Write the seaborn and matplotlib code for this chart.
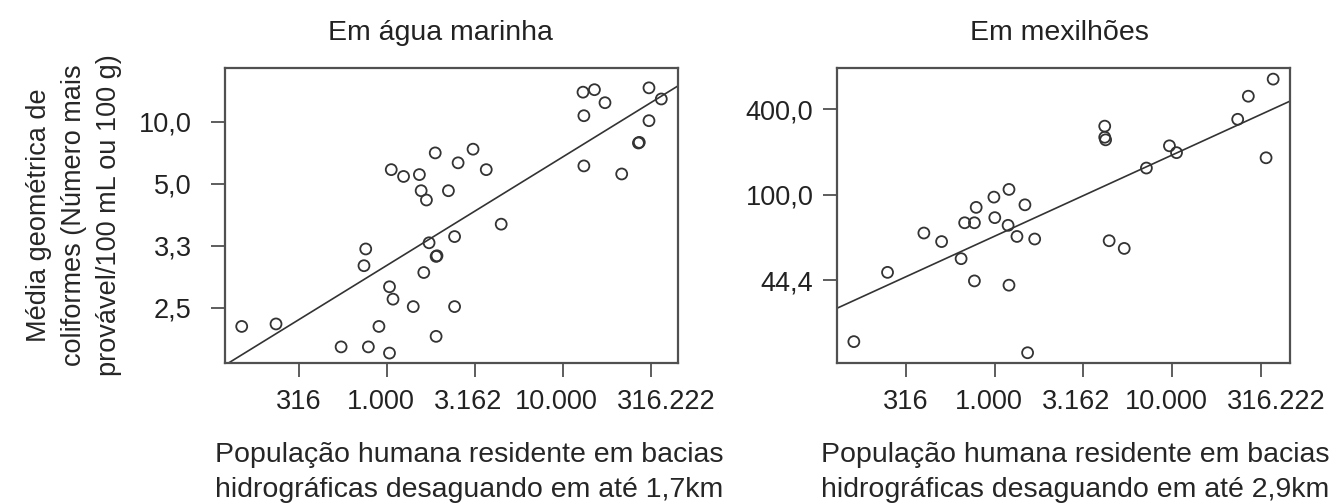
import numpy as np
import pandas as pd
import matplotlib
matplotlib.use("Agg")
import matplotlib.pyplot as plt
import matplotlib.transforms as mtransforms
import seaborn as sns

# ---- data (positions on the printed, evenly spaced axes) ----
X_TICKS = [0, 1, 2, 3, 4]
X_LABELS = ["316", "1.000", "3.162", "10.000", "316.222"]

# Em água marinha
AGUA_Y_TICKS = [0, 1, 2, 3]
AGUA_Y_LABELS = ["2,5", "3,3", "5,0", "10,0"]
agua_x = [-0.65, -0.26, 0.48, 0.79, 1.03, 0.91, 1.56, 1.07, 1.03, 1.30, 1.77,
          1.42, 0.74, 0.76, 1.48, 1.56, 1.57, 1.77, 2.30, 1.39, 1.45, 1.70,
          1.05, 1.19, 1.37, 1.55, 1.81, 1.98, 2.13, 3.23, 3.36, 3.48, 3.24,
          3.24, 3.67, 3.86, 3.87, 3.98, 3.98, 4.12]
agua_y = [-0.30, -0.26, -0.63, -0.63, -0.73, -0.30, -0.46, 0.14, 0.34, 0.02, 0.02,
          0.57, 0.68, 0.95, 1.05, 0.83, 0.84, 1.15, 1.35, 1.89, 1.74, 1.89,
          2.23, 2.12, 2.15, 2.50, 2.34, 2.56, 2.23, 3.48, 3.52, 3.31, 3.10,
          2.29, 2.16, 2.66, 2.67, 3.02, 3.55, 3.37]
agua_fit = (-0.19, 0.875)  # intercept, slope

# Em mexilhões
MEX_Y_TICKS = [0, 1, 2]
MEX_Y_LABELS = ["44,4", "100,0", "400,0"]
mex_x = [-0.59, -0.21, 0.20, 0.40, 0.62, 0.66, 0.77, 0.79, 0.77, 0.99, 1.00,
         1.16, 1.15, 1.16, 1.25, 1.34, 1.45, 1.37, 2.24, 2.24, 2.25, 2.29,
         2.46, 2.71, 2.97, 3.05, 3.74, 3.86, 4.06, 4.14]
mex_y = [-0.72, 0.09, 0.55, 0.45, 0.25, 0.67, 0.67, 0.85, -0.01, 0.97, 0.73,
         1.06, 0.64, -0.06, 0.51, 0.88, 0.48, -0.85, 1.80, 1.67, 1.64, 0.46,
         0.37, 1.31, 1.57, 1.49, 1.88, 2.15, 1.43, 2.35]
mex_fit = (0.04, 0.474)

# ---- style ----
sns.set_theme(style="ticks")
plt.rcParams["font.family"] = ["Liberation Sans", "DejaVu Sans"]
plt.rcParams["text.color"] = "#222222"
FS_TICK = 19.5
FS_LAB = 20.5

INK = "#333333"
GRID = "#505050"
# printed x labels sit a bit off their ticks (pixels)
XLAB_SHIFT = [0, -6, -7, -6, 15]

W, H = 1338, 504
fig = plt.figure(figsize=(W / 100, H / 100), dpi=100)


def panel(rect, xs, ys, fit, yticks, ylabels, xlim, ylim, title, xlabel,
          ypad, title_x, xlabel_x, ylabel=None):
    ax = fig.add_axes(rect)
    df = pd.DataFrame({"x": xs, "y": ys})
    sns.scatterplot(data=df, x="x", y="y", ax=ax, s=62, marker="o",
                    facecolor="none", edgecolor=INK, linewidth=1.3, zorder=3)
    ax.axline((0, fit[0]), slope=fit[1], color=INK, linewidth=1.2, zorder=2)
    ax.set_xlim(*xlim)
    ax.set_ylim(*ylim)
    ax.set_xticks(X_TICKS)
    ax.set_xticklabels(X_LABELS)
    ax.set_yticks(yticks)
    ax.set_yticklabels(ylabels)
    for s in ax.spines.values():
        s.set_visible(True)
        s.set_color(GRID)
        s.set_linewidth(1.6)
    ax.tick_params(axis="both", length=10, width=1.3, color=GRID,
                   labelsize=FS_TICK, labelcolor="#222222")
    ax.tick_params(axis="x", pad=9)
    ax.tick_params(axis="y", pad=ypad)
    for lab, dx in zip(ax.get_xticklabels(), XLAB_SHIFT):
        lab.set_transform(lab.get_transform() +
                          mtransforms.ScaledTranslation(dx / 100, 0, fig.dpi_scale_trans))
    ax.set_title(title, fontsize=FS_LAB, pad=20, x=title_x)
    ax.set_xlabel(xlabel, fontsize=FS_LAB, labelpad=19, linespacing=1.45)
    ax.xaxis.label.set_x(xlabel_x)
    if ylabel:
        ax.set_ylabel(ylabel, fontsize=FS_TICK, labelpad=12, linespacing=1.45)
    else:
        ax.set_ylabel("")
    return ax


panel([225 / W, 1 - 363 / H, (678 - 225) / W, (363 - 68) / H],
      agua_x, agua_y, agua_fit, AGUA_Y_TICKS, AGUA_Y_LABELS,
      (-0.84, 4.31), (-0.89, 3.87), "Em água marinha",
      "População humana residente em bacias\nhidrográficas desaguando em até 1,7km",
      ypad=14, title_x=0.475, xlabel_x=0.54,
      ylabel="Média geométrica de\ncoliformes (Número mais\nprovável/100 mL ou 100 g)")

panel([837 / W, 1 - 363 / H, (1290 - 837) / W, (363 - 68) / H],
      mex_x, mex_y, mex_fit, MEX_Y_TICKS, MEX_Y_LABELS,
      (-0.78, 4.33), (-0.97, 2.48), "Em mexilhões",
      "População humana residente em bacias\nhidrográficas desaguando em até 2,9km",
      ypad=7, title_x=0.49, xlabel_x=0.525)

fig.savefig("out.png", dpi=100)
